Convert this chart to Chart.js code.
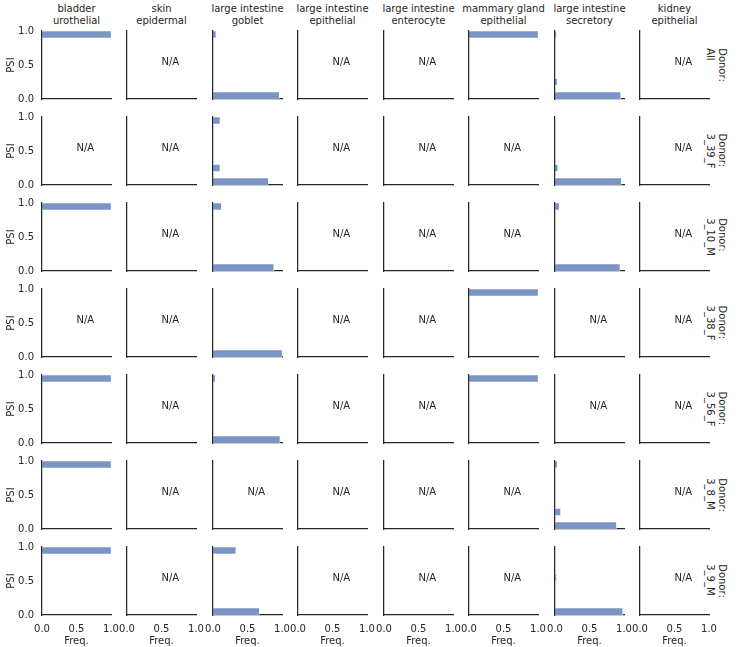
<!DOCTYPE html>
<html>
<head>
<meta charset="utf-8">
<script src="https://cdn.jsdelivr.net/npm/chart.js@4.4.1/dist/chart.umd.min.js"></script>
<style>
  html, body { margin: 0; padding: 0; background: #fff; }
  #grid { position: relative; width: 738px; height: 647px; overflow: hidden;
          font-family: 'DejaVu Sans', sans-serif; font-size: 10px; color: #262626; }
  .panel { position: absolute; }
  .col-title { position: absolute; text-align: center; line-height: 12px; white-space: pre;
               transform: translateX(-50%); }
  .row-title { position: absolute; text-align: left; line-height: 12px; white-space: pre;
               transform: translate(-50%, -50%) rotate(90deg); }
</style>
</head>
<body>
<div id="grid"></div>
<script>
// Facet columns / rows
const cellTypes = [
    ['bladder', 'urothelial'],
    ['skin', 'epidermal'],
    ['large intestine', 'goblet'],
    ['large intestine', 'epithelial'],
    ['large intestine', 'enterocyte'],
    ['mammary gland', 'epithelial'],
    ['large intestine', 'secretory'],
    ['kidney', 'epithelial']
];
const donors = ['All', '3_39_F', '3_10_M', '3_38_F', '3_56_F', '3_8_M', '3_9_M'];

// PSI bins (bottom to top) and axis ticks
const psiBins = ['0.0-0.1', '0.1-0.2', '0.2-0.3', '0.3-0.4', '0.4-0.5',
                 '0.5-0.6', '0.6-0.7', '0.7-0.8', '0.8-0.9', '0.9-1.0'];
const axisTicks = [0, 0.5, 1];

// Frequency per PSI bin, one entry per cell type (null = N/A)
const freqAll = [
    [0, 0, 0, 0, 0, 0, 0, 0, 0, 1.0],
    null,
    [0.96, 0, 0, 0, 0, 0, 0, 0, 0, 0.04],
    null,
    null,
    [0, 0, 0, 0, 0, 0, 0, 0, 0, 1.0],
    [0.95, 0, 0.03, 0, 0, 0, 0, 0, 0, 0.02],
    null
];
const freq3_39_F = [
    null,
    null,
    [0.8, 0, 0.1, 0, 0, 0, 0, 0, 0, 0.1],
    null,
    null,
    null,
    [0.96, 0, 0.04, 0, 0, 0, 0, 0, 0, 0],
    null
];
const freq3_10_M = [
    [0, 0, 0, 0, 0, 0, 0, 0, 0, 1.0],
    null,
    [0.88, 0, 0, 0, 0, 0, 0, 0, 0, 0.12],
    null,
    null,
    null,
    [0.94, 0, 0, 0, 0, 0, 0, 0, 0, 0.06],
    null
];
const freq3_38_F = [
    null,
    null,
    [1.0, 0, 0, 0, 0, 0, 0, 0, 0, 0],
    null,
    null,
    [0, 0, 0, 0, 0, 0, 0, 0, 0, 1.0],
    null,
    null
];
const freq3_56_F = [
    [0, 0, 0, 0, 0, 0, 0, 0, 0, 1.0],
    null,
    [0.97, 0, 0, 0, 0, 0, 0, 0, 0, 0.03],
    null,
    null,
    [0, 0, 0, 0, 0, 0, 0, 0, 0, 1.0],
    null,
    null
];
const freq3_8_M = [
    [0, 0, 0, 0, 0, 0, 0, 0, 0, 1.0],
    null,
    null,
    null,
    null,
    null,
    [0.89, 0, 0.08, 0, 0, 0, 0, 0, 0, 0.03],
    null
];
const freq3_9_M = [
    [0, 0, 0, 0, 0, 0, 0, 0, 0, 1.0],
    null,
    [0.67, 0, 0, 0, 0, 0, 0, 0, 0, 0.33],
    null,
    null,
    null,
    [0.98, 0, 0, 0, 0, 0.02, 0, 0, 0, 0],
    null
];
const freqByDonor = [freqAll, freq3_39_F, freq3_10_M, freq3_38_F, freq3_56_F, freq3_8_M, freq3_9_M];

// Layout (pixels)
const PLOT_W = 69, PLOT_H = 68;
const FIRST_LEFT = 41.5, FIRST_TOP = 30.5;
const COL_STEP = 85.57, ROW_STEP = 86;
const ML = 42, MR = 18, MT = 16, MB = 32;
const ROW_LABEL_X = 716;

const TEXT = '#262626';
const FONT = { family: "'DejaVu Sans', sans-serif", size: 10 };
const BAR_COLOR = 'rgba(76, 114, 176, 0.75)';

// "N/A" for empty facets, placed at (0.5, 0.5) in data units
const naLabel = {
    id: 'naLabel',
    afterDraw(chart, args, opts) {
        if (!opts.show) return;
        const ctx = chart.ctx;
        ctx.save();
        ctx.font = "10px 'DejaVu Sans', sans-serif";
        ctx.fillStyle = TEXT;
        ctx.textAlign = 'left';
        ctx.textBaseline = 'alphabetic';
        ctx.fillText('N/A', chart.scales.x.getPixelForValue(0.5), chart.scales.psi.getPixelForValue(0.5));
        ctx.restore();
    }
};

const grid = document.getElementById('grid');
const fmt = v => Number(v).toFixed(1);

function makePanel(r, c) {
    const freqs = freqByDonor[r][c];
    const isLeft = c === 0;
    const isBottom = r === donors.length - 1;
    const plotLeft = Math.round(FIRST_LEFT + c * COL_STEP);
    const plotTop = Math.round(FIRST_TOP + r * ROW_STEP);

    const box = document.createElement('div');
    box.className = 'panel';
    box.style.left = (plotLeft - ML) + 'px';
    box.style.top = (plotTop - MT) + 'px';
    const canvas = document.createElement('canvas');
    canvas.width = ML + PLOT_W + MR;
    canvas.height = MT + PLOT_H + MB;
    canvas.style.width = canvas.width + 'px';
    canvas.style.height = canvas.height + 'px';
    box.appendChild(canvas);
    grid.appendChild(box);

    new Chart(canvas, {
        type: 'bar',
        data: {
            labels: psiBins,
            datasets: freqs ? [{
                data: freqs.map(v => v > 0 ? v : null),
                yAxisID: 'bin',
                backgroundColor: BAR_COLOR,
                borderColor: '#ffffff',
                borderWidth: 0.5,
                barPercentage: 1,
                categoryPercentage: 1
            }] : []
        },
        options: {
            indexAxis: 'y',
            responsive: false,
            animation: false,
            events: [],
            layout: { padding: { top: MT, right: MR, left: 0, bottom: 0 } },
            plugins: {
                legend: { display: false },
                tooltip: { enabled: false },
                naLabel: { show: !freqs }
            },
            scales: {
                x: {
                    type: 'linear',
                    min: 0,
                    max: 1,
                    afterBuildTicks: s => { s.ticks = axisTicks.map(v => ({ value: v })); },
                    afterFit: s => { s.height = MB; },
                    grid: { display: false, drawTicks: false },
                    border: { display: true, color: TEXT, width: 1.25 },
                    ticks: { display: isBottom, padding: 8, color: TEXT, font: FONT, callback: fmt, maxRotation: 0 },
                    title: { display: isBottom, text: 'Freq.', color: TEXT, font: FONT, padding: { top: 0, bottom: 0 } }
                },
                bin: {
                    type: 'category',
                    axis: 'y',
                    display: false,
                    reverse: true,
                    offset: true
                },
                psi: {
                    type: 'linear',
                    axis: 'y',
                    position: 'left',
                    min: 0,
                    max: 1,
                    offset: false,
                    afterBuildTicks: s => { s.ticks = axisTicks.map(v => ({ value: v })); },
                    afterFit: s => { s.width = ML; },
                    grid: { display: false, drawTicks: false },
                    border: { display: true, color: TEXT, width: 1.25 },
                    ticks: { display: isLeft, padding: 8, color: TEXT, font: FONT, callback: fmt },
                    title: { display: isLeft, text: 'PSI', color: TEXT, font: FONT, padding: { top: 5, bottom: 0 } }
                }
            }
        },
        plugins: [naLabel]
    });
}

// Column headers
cellTypes.forEach((lines, c) => {
    const d = document.createElement('div');
    d.className = 'col-title';
    d.textContent = lines.join('\n');
    d.style.left = (Math.round(FIRST_LEFT + c * COL_STEP) + PLOT_W / 2) + 'px';
    d.style.top = '3px';
    grid.appendChild(d);
});

// Row labels on the right
donors.forEach((name, r) => {
    const d = document.createElement('div');
    d.className = 'row-title';
    d.textContent = 'Donor:\n' + name;
    d.style.left = ROW_LABEL_X + 'px';
    d.style.top = (Math.round(FIRST_TOP + r * ROW_STEP) + PLOT_H / 2) + 'px';
    grid.appendChild(d);
});

for (let r = 0; r < donors.length; r++) {
    for (let c = 0; c < cellTypes.length; c++) {
        makePanel(r, c);
    }
}
</script>
</body>
</html>
